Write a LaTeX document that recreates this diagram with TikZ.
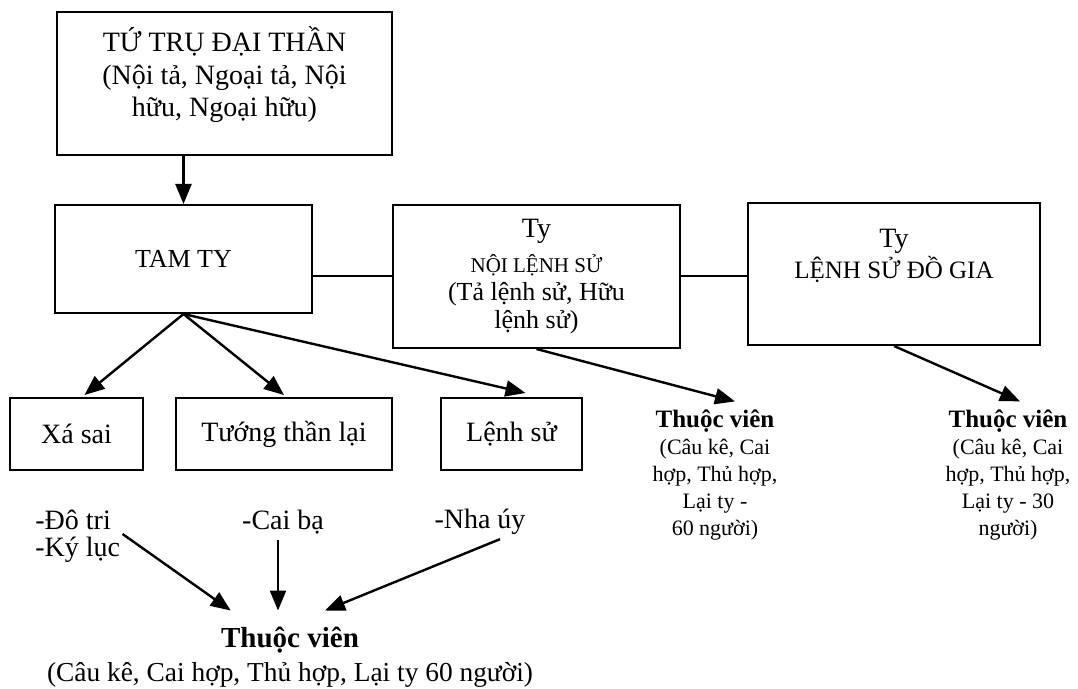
\documentclass[tikz,border=0pt]{standalone}
\usepackage{fontspec}
\setmainfont{Liberation Serif}
\usetikzlibrary{arrows.meta}
\newcommand{\sz}[2]{\fontsize{#1}{#2}\selectfont}
\tikzset{
	box/.style={draw, line width=1pt, inner sep=0pt, align=center},
	link/.style={line width=1pt},
	arr/.style={line width=1.2pt, -{Triangle[length=10pt, width=8pt]}},
	txt/.style={align=center, inner sep=1pt},
}
\begin{document}
\begin{tikzpicture}[x=0.5pt, y=-0.5pt]
		\useasboundingbox (0,0) rectangle (1078,689);
		
		% top
		\node[box, minimum width=167.5pt, minimum height=71.5pt] (tutru) at (224.5, 83.5) {};
		\node[txt, font=\sz{14}{16.2}] (tutrutext) at (224.5, 75) {TỨ TRỤ ĐẠI THẦN\\(Nội tả, Ngoại tả, Nội\\hữu, Ngoại hữu)};
		
		% middle row
		\node[box, minimum width=128.5pt, minimum height=54pt, font=\sz{13}{15}] (tamty) at (183.5, 259) {TAM TY};
		\node[box, minimum width=143.5pt, minimum height=71.5pt, font=\sz{13}{14}] (noilenh) at (536.5, 276.5)
			{\sz{14}{14}Ty\\[3.5pt]\sz{10.5}{14}NỘI LỆNH SỬ\\(Tả lệnh sử, Hữu\\lệnh sử)};
		\node[box, minimum width=146pt, minimum height=71pt] (ldg) at (894, 274) {};
		\node[txt] (ldgtext) at (894, 256) {\sz{14}{19}Ty\\\sz{12.5}{19}LỆNH SỬ ĐỒ GIA};
		\draw[link] (tamty.east |- noilenh.west) -- (noilenh.west);
		\draw[link] (noilenh.east) -- (noilenh.east -| ldg.west);
		\draw[arr] (tutru.south -| tamty.south) -- (tamty.north);
		
		% lower boxes
		\node[box, minimum width=66.5pt, minimum height=36pt, font=\sz{14}{16}] (xasai) at (76.5, 434) {Xá sai};
		\node[box, minimum width=108pt, minimum height=36pt, font=\sz{14}{16}] (tuongthan) at (284, 434) {Tướng thần lại};
		\node[box, minimum width=70.5pt, minimum height=36pt, font=\sz{14}{16}] (lenhsu) at (511.5, 434) {Lệnh sử};
		\draw[arr] (tamty.south) -- ([xshift=4pt, yshift=1pt]xasai.north);
		\draw[arr] (tamty.south) -- ([yshift=1pt]tuongthan.north);
		\draw[arr] (tamty.south) -- ([xshift=7pt, yshift=2pt]lenhsu.north);
		
		% right staff
		\node[txt, font=\sz{11}{13.5}] (tvone) at (715, 475)
			{{\bfseries\sz{12.5}{14.5}Thuộc viên}\\(Câu kê, Cai\\hợp, Thủ hợp,\\Lại ty -\\60 người)};
		\node[txt, font=\sz{11}{13.5}] (tvtwo) at (1008, 475)
			{{\bfseries\sz{12.5}{14.5}Thuộc viên}\\(Câu kê, Cai\\hợp, Thủ hợp,\\Lại ty - 30\\người)};
		\draw[arr] (noilenh.south) -- ([xshift=10pt, yshift=3pt]tvone.north);
		\draw[arr] (ldg.south) -- ([xshift=6pt, yshift=3pt]tvtwo.north);
		
		% bottom
		\node[txt, align=left, anchor=west, font=\sz{14}{13.5}] (dotri) at (33, 536) {-Đô tri\\-Ký lục};
		\node[txt, font=\sz{14}{16}] (caiba) at (283, 522) {-Cai bạ};
		\node[txt, font=\sz{14}{16}] (nhauy) at (480, 522) {-Nha úy};
		\node[txt, font=\bfseries\sz{14.5}{16}] (tvb) at (290, 640) {Thuộc viên};
		\node[txt, font=\sz{13.7}{16}] (tvbnote) at (290, 675) {(Câu kê, Cai hợp, Thủ hợp, Lại ty 60 người)};
		\draw[arr] ([yshift=1pt]dotri.east) -- ([xshift=6pt, yshift=7pt]tvb.north west);
		\draw[arr] ([xshift=-2.5pt, yshift=-2pt]caiba.south) -- ([xshift=-2.5pt, yshift=7pt]caiba.south |- tvb.north);
		\draw[arr] ([xshift=10pt, yshift=-1pt]nhauy.south) -- ([xshift=17.5pt, yshift=7pt]tvb.north);
	\end{tikzpicture}
\end{document}
